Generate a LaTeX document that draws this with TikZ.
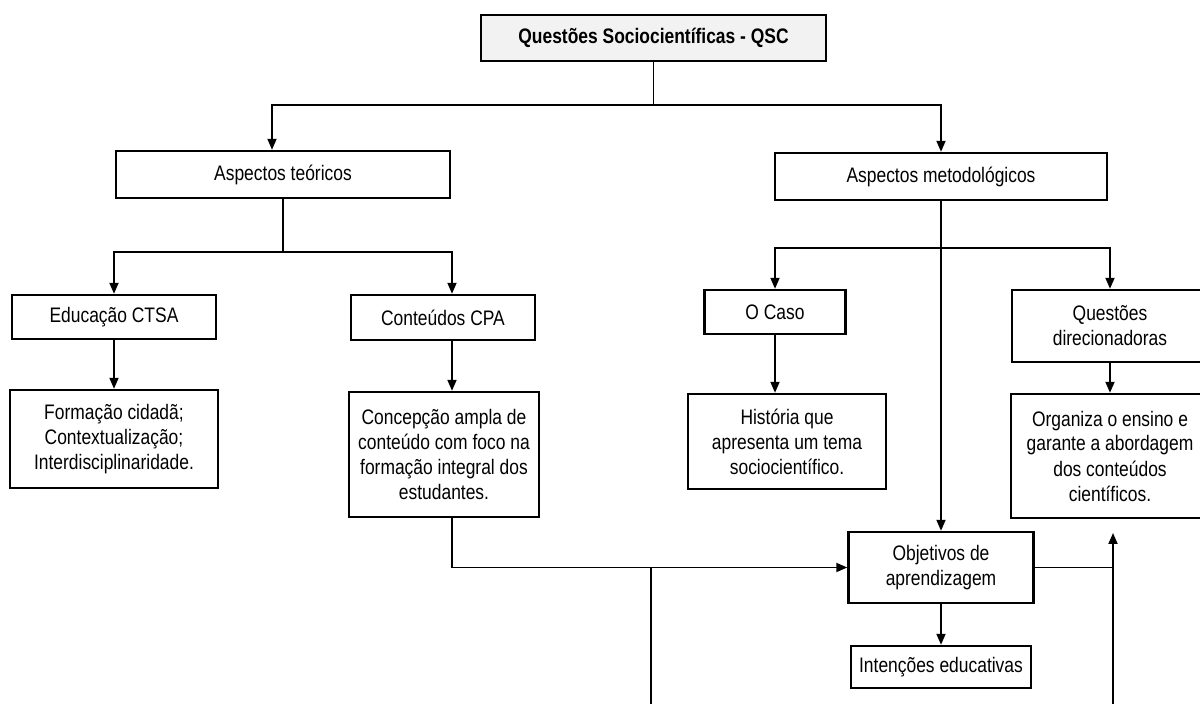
\documentclass[tikz,border=0pt]{standalone}
\usepackage{fontspec}
\setmainfont{Liberation Sans}[FakeStretch=0.83]
\usetikzlibrary{arrows.meta}
\newcommand{\boxfont}{\fontsize{10.5}{12.5}\selectfont}
\tikzstyle{box} = [rectangle, draw=black, line width=1.2pt, text centered, align=center, inner sep=2pt, font=\boxfont]
\tikzstyle{title} = [box, fill=black!5, font=\boxfont\bfseries]
\tikzstyle{arrow} = [line width=0.9pt,-{Triangle[length=5.5pt,width=4.5pt]}]
\tikzstyle{line} = [line width=0.9pt]

\begin{document}
\begin{tikzpicture}[x=0.5pt, y=-0.5pt, node distance=61pt]
    \useasboundingbox (0,0) rectangle (1200,704);
    \clip (0,0) rectangle (1200,704);

    \node (qsc) [title, minimum width=172.5pt, minimum height=23pt] at (653.5,38) {Questões Sociocientíficas - QSC};
    \node (teo) [box, below of=qsc, xshift=-185.25pt, yshift=-7.25pt, minimum width=167pt, minimum height=23.5pt] {Aspectos teóricos};
    \node (met) [box, below of=qsc, xshift=143.75pt, yshift=-8.25pt, minimum width=166pt, minimum height=23.5pt] {Aspectos metodológicos};

    \node (edu) [box, below of=teo, xshift=-84.5pt, yshift=-10.25pt, minimum width=102pt, minimum height=22pt] {Educação CTSA};
    \node (cpa) [box, below of=teo, xshift=80pt, yshift=-10.5pt, minimum width=92pt, minimum height=22.5pt] {Conteúdos CPA};
    \node (form) [box, below of=edu, minimum width=104pt, minimum height=49pt] {Formação cidadã;\\ Contextualização;\\ Interdisciplinaridade.};
    \node (conc) [box, below of=cpa, xshift=0.5pt, yshift=-7.5pt, minimum width=95pt, minimum height=62.5pt] {Concepção ampla de\\ conteúdo com foco na\\ formação integral dos\\ estudantes.};

    \node (caso) [box, below of=met, xshift=-83pt, yshift=-6.75pt, minimum width=70.5pt, minimum height=22pt] {O Caso};
    \node (qdir) [box, below of=met, xshift=84.5pt, yshift=-13.75pt, minimum width=98pt, minimum height=36pt] {Questões\\ direcionadoras};
    \node (hist) [box, below of=caso, xshift=6pt, yshift=-3.75pt, minimum width=99pt, minimum height=47.5pt] {História que\\ apresenta um tema\\ sociocientífico.};
    \node (org) [box, below of=qdir, yshift=-4pt, minimum width=99pt, minimum height=62pt] {Organiza o ensino e\\ garante a abordagem\\ dos conteúdos\\ científicos.};

    \node (obj) [box, below of=met, yshift=-134.5pt, minimum width=92.5pt, minimum height=35.5pt] {Objetivos de\\ aprendizagem};
    \node (int) [box, below of=obj, yshift=11.25pt, minimum width=90pt, minimum height=21pt] {Intenções educativas};

    % loose ends at the bottom
    \coordinate (botL) at (651,712);
    \coordinate (botR) at (1113,712);
    \coordinate (topR) at (1113,533);

    \draw [line] (qsc.south) -- ++(0,43) coordinate (qscbus);
    \draw [arrow] (qscbus) -| ([xshift=-5.5pt]teo.north);
    \draw [arrow] (qscbus) -| (met.north);

    \draw [line] (teo.south) -- ++(0,53) coordinate (teobus);
    \draw [arrow] (teobus) -| (edu.north);
    \draw [arrow] (teobus) -| ([xshift=4.5pt]cpa.north);
    \draw [arrow] (edu.south) -- (form.north);
    \draw [arrow] ([xshift=4.5pt]cpa.south) -- ([xshift=4pt]conc.north);

    \draw [line] (met.south) -- ++(0,47) coordinate (metbus);
    \draw [arrow] (metbus) -| (caso.north);
    \draw [arrow] (metbus) -| (qdir.north);
    \draw [arrow] (met.south) -- (obj.north);
    \draw [arrow] (caso.south) -- (caso.south |- hist.north);
    \draw [arrow] (qdir.south) -- (org.north);

    \draw [arrow] ([xshift=4pt]conc.south) |- (obj.west);
    \draw [line] (botL) -- (botL |- obj.west);
    \draw [arrow] (obj.south) -- (int.north);
    \draw [line] (obj.east) -- (obj.east -| topR);
    \draw [arrow] (botR) -- (topR);

\end{tikzpicture}
\end{document}
